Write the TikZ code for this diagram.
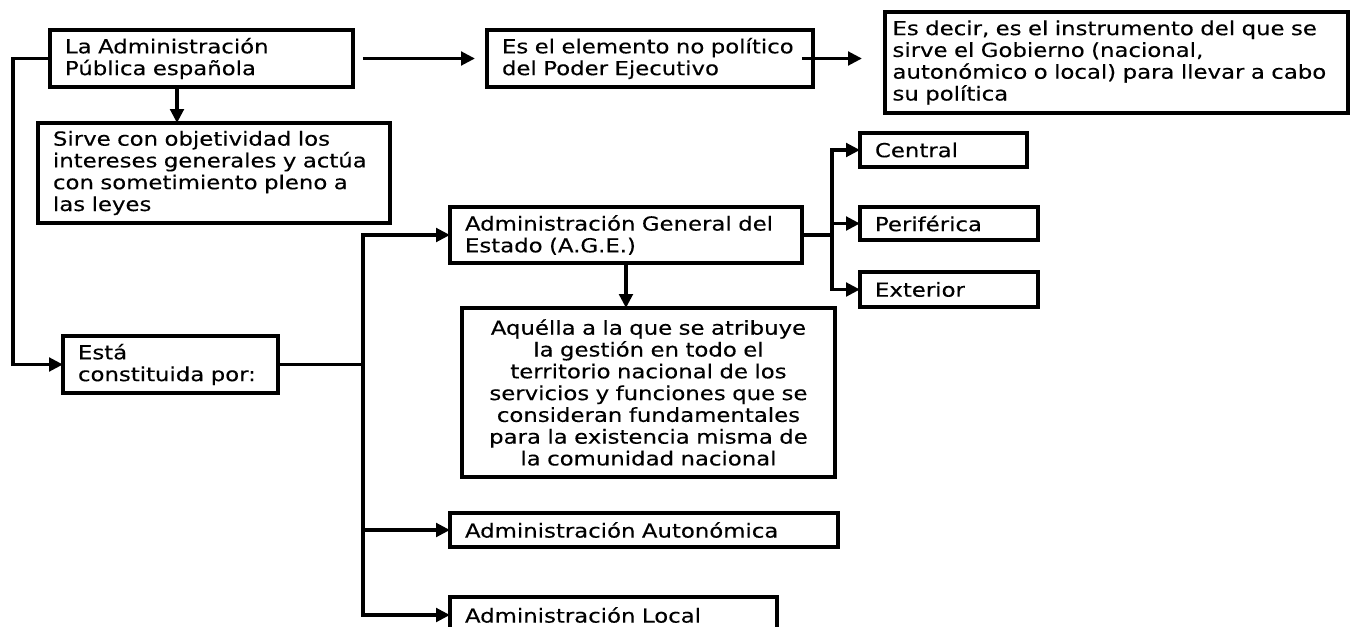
\documentclass[tikz,border=0pt]{standalone}
\usepackage{fontspec}
\setmainfont{DejaVu Sans}[FakeStretch=1.18,FakeBold=0.3]
\usetikzlibrary{calc,arrows.meta,positioning}

\tikzset{
  box/.style={draw, line width=2.6pt, align=left, anchor=north west, outer sep=0pt,
    inner xsep=0.3cm, inner ysep=0pt, font=\fontsize{11}{12.4}\selectfont},
  link/.style={line width=2.2pt},
  arr/.style={link, -{Triangle[length=0.28cm,width=0.27cm]}}
}

\begin{document}
\begin{tikzpicture}[x=0.02cm,y=0.02cm]
\useasboundingbox (0,0) rectangle (1355,-626);
% boxes
\node[box, text width=5.46cm, minimum height=1.14cm] (adm) at (50,-30)
  {La Administración\\Pública española};
\node[box, text width=6.44cm, minimum height=2.0cm] (sirve) at (38,-123)
  {Sirve con objetividad los\\intereses generales y actúa\\con sometimiento pleno a\\las leyes};
\node[box, text width=5.92cm, minimum height=1.14cm] (elem) at (487,-30)
  {Es el elemento no político\\del Poder Ejecutivo};
\node[box, text width=8.96cm, minimum height=2.02cm, inner xsep=0.15cm] (instr) at (885,-12)
  {Es decir, es el instrumento del que se\\sirve el Gobierno (nacional,\\autonómico o local) para llevar a cabo\\su política};
\node[box, text width=3.7cm, minimum height=1.14cm] (est) at (63,-336)
  {Está\\constituida por:};
\node[box, text width=6.44cm, minimum height=1.12cm] (age) at (450,-207)
  {Administración General del\\Estado (A.G.E.)};
\node[box, text width=6.86cm, minimum height=3.38cm, align=center] (aq) at (462,-308)
  {Aquélla a la que se atribuye\\la gestión en todo el\\territorio nacional de los\\servicios y funciones que se\\consideran fundamentales\\para la existencia misma de\\la comunidad nacional};
\node[box, text width=2.74cm, minimum height=0.68cm] (cen) at (860,-133) {Central};
\node[box, text width=2.96cm, minimum height=0.66cm] (per) at (860,-207) {Periférica};
\node[box, text width=2.96cm, minimum height=0.70cm] (ext) at (860,-272) {Exterior};
\node[box, text width=7.16cm, minimum height=0.68cm] (auto) at (450,-513) {Administración Autonómica};
\node[box, text width=5.94cm, minimum height=0.72cm] (local) at (450,-597) {Administración Local};
% connectors
\coordinate (lft) at (13,0);
\coordinate (admd) at (177,-87);
\coordinate (trunk) at (363,-365);
\coordinate (br) at (832,-235);
\draw[arr] (adm.west) -- (adm.west -| lft) |- (est.west);
\draw[arr] (admd) -- (admd |- sirve.north);
\draw[arr, shorten <=10*0.02cm, shorten >=12*0.02cm] (adm.east) -- (elem.west);
\draw[arr, shorten <=-11*0.02cm, shorten >=23*0.02cm] (elem.east) -- (elem.east -| instr.west);
\draw[link] (est.east) -- (est.east -| trunk);
\draw[link] (trunk |- age.west) -- (trunk |- local.west);
\draw[arr] (trunk) |- (age.west);
\draw[arr] (trunk) |- (auto.west);
\draw[arr] (trunk) |- (local.west);
\draw[arr] (age.south) -- (age.south |- aq.north);
\draw[link] (age.east) -- (br);
\draw[link] (br |- cen.west) -- (br |- ext.west);
\draw[arr] (br) |- (cen.west);
\draw[arr] (br) |- (per.west);
\draw[arr] (br) |- (ext.west);
\end{tikzpicture}
\end{document}
